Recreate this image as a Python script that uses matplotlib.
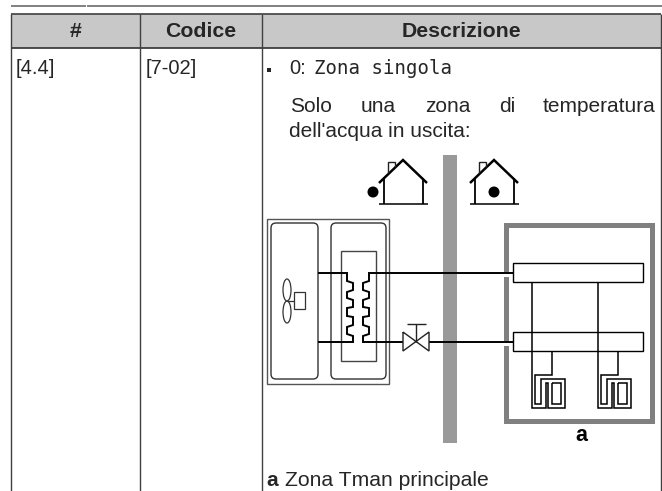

# Table row with the single zone hydraulic diagram
import matplotlib
matplotlib.use('Agg')
import matplotlib.pyplot as plt
from matplotlib.patches import Rectangle, FancyBboxPatch, Ellipse, Circle

plt.rcParams['font.family'] = ['Liberation Sans', 'DejaVu Sans']

# Texts of the table
header_labels = ["#", "Codice", "Descrizione"]
row_id = "[4.4]"
row_code = "[7-02]"
option_value = "0:"
option_name = "Zona singola"
justified_words = ["Solo", "una", "zona", "di", "temperatura"]
second_line = "dell'acqua in uscita:"
zone_letter = "a"
caption_rest = "Zona Tman principale"

# Table geometry in image pixels
col_edges = [11, 140, 262, 661]
header_centers = [76, 201, 461]
word_x = [290, 361, 425, 499, 543]

# Heat exchanger coils
coil_left = [(318, 273), (347, 273), (347, 281), (353, 283), (353, 290), (347, 292), (347, 298), (353, 300),
             (353, 307), (347, 308), (347, 316), (353, 317), (353, 325), (347, 327), (347, 334), (353, 336),
             (353, 342), (318, 342)]
coil_right = [(513, 273), (369, 273), (369, 281), (363, 283), (363, 290), (369, 292), (369, 298), (363, 300),
              (363, 307), (369, 308), (369, 316), (363, 317), (363, 325), (369, 327), (369, 334), (363, 336),
              (363, 342), (403, 342)]

# Floor heating loop, drawn twice
loop_outer = [(552, 351), (552, 375), (535, 375), (535, 404), (541, 404), (541, 379), (565, 379), (565, 408),
              (548, 408), (548, 383), (546, 383), (546, 408), (532, 408), (532, 282)]
loop_inner = [(552, 383), (552, 404), (561, 404), (561, 383), (552, 383)]
loop_offsets = [0, 66]

# Houses: ridge x and dot x
house_ridge_x = [403, 494]
house_dot_x = [373, 494]

fig = plt.figure(figsize=(6.62, 4.91), dpi=100)
ax = fig.add_axes([0, 0, 1, 1])
ax.set_xlim(0, 662)
ax.set_ylim(491, 0)
ax.axis('off')

def line(pts, color='black', lw=1.0, z=3):
    xs = [p[0] for p in pts]
    ys = [p[1] for p in pts]
    ax.plot(xs, ys, color=color, lw=lw, zorder=z, solid_capstyle='butt', solid_joinstyle='miter')

TEXT = '#262626'

# Page rule and table frame
line([(11, 5.5), (85.5, 5.5)], '#808080', 1.4)
line([(87, 5.5), (662, 5.5)], '#808080', 1.4)
ax.add_patch(Rectangle((11, 13.5), 650, 34.5, fc='#c8c8c8', ec='none', zorder=1))
line([(11, 13.5), (661, 13.5)], '#404040', 1.2)
line([(11, 48), (661, 48)], '#303030', 1.2)
for x in col_edges:
    line([(x, 13.5), (x, 491)], '#404040', 1.0)

for cx, label in zip(header_centers, header_labels):
    ax.text(cx, 37, label, ha='center', va='baseline', fontsize=15.3, fontweight='bold', color=TEXT)

ax.text(16, 74, row_id, ha='left', va='baseline', fontsize=14.5, color=TEXT)
ax.text(146, 74, row_code, ha='left', va='baseline', fontsize=14.5, color=TEXT)
ax.add_patch(Rectangle((267, 68), 4, 4, fc=TEXT, ec='none'))
ax.text(289, 74, option_value, ha='left', va='baseline', fontsize=14.5, color=TEXT)
ax.text(314, 74, option_name, ha='left', va='baseline', fontsize=13.7, color=TEXT, family='DejaVu Sans Mono')
for x, word in zip(word_x, justified_words):
    ax.text(x, 112, word, ha='left', va='baseline', fontsize=15, color=TEXT)
ax.text(289, 137, second_line, ha='left', va='baseline', fontsize=15, color=TEXT)
ax.text(266, 486, zone_letter, ha='left', va='baseline', fontsize=15, fontweight='bold', color=TEXT)
ax.text(285, 486, caption_rest, ha='left', va='baseline', fontsize=15.2, color=TEXT)

# Wall between outside and inside
ax.add_patch(Rectangle((443, 155), 14, 288, fc='#999999', ec='none', zorder=1))

# Houses
for rx, dx in zip(house_ridge_x, house_dot_x):
    line([(rx - 24, 183), (rx, 160), (rx + 24, 183)], 'black', 1.8)
    line([(rx - 19, 178), (rx - 19, 204)], 'black', 1.3)
    line([(rx + 20, 178), (rx + 20, 204)], 'black', 1.3)
    line([(rx - 24, 204), (rx + 25, 204)], 'black', 1.1)
    line([(rx - 15, 173), (rx - 15, 162), (rx - 8, 162), (rx - 8, 167)], '#222222', 1.0)
    ax.add_patch(Circle((dx, 192), 5.5, fc='black', ec='none', zorder=3))

# Outdoor unit
ax.add_patch(Rectangle((267, 219), 122, 165, fc='white', ec='#555555', lw=1.0, zorder=2))
for x0, x1 in [(271, 318), (331, 386)]:
    ax.add_patch(FancyBboxPatch((x0 + 5, 228), x1 - x0 - 10, 146, boxstyle='round,pad=5', fc='none',
                                ec='#333333', lw=1.0, zorder=2))
ax.add_patch(Rectangle((341, 251), 35, 110, fc='white', ec='#444444', lw=1.0, zorder=2))

# Fan and motor
ax.add_patch(Ellipse((287, 290), 8, 22, fc='none', ec='#333333', lw=0.9, zorder=3))
ax.add_patch(Ellipse((287, 312), 8, 22, fc='none', ec='#333333', lw=0.9, zorder=3))
line([(287, 301), (294, 301)], '#333333', 0.9)
ax.add_patch(Rectangle((294, 292), 11, 17, fc='white', ec='#333333', lw=0.9, zorder=3))

# Room
ax.add_patch(Rectangle((505.5, 224.5), 146, 196, fc='none', ec='#808080', lw=3.6, zorder=1))

# Pipes, coils and valve
line(coil_left, 'black', 1.4)
line(coil_right, 'black', 1.4)
line([(429, 342), (513, 342)], 'black', 1.4)
ax.add_patch(Rectangle((404, 333), 24, 18, fc='white', ec='none', zorder=3.5))
line([(403, 332), (429, 351), (429, 332), (403, 351), (403, 332)], '#222222', 1.0, z=4)
line([(416, 342), (416, 324)], '#222222', 1.0, z=4)
line([(407, 324), (426, 324)], '#222222', 1.0, z=4)

# Gaps where the pipes enter the room
for y in [273, 342]:
    ax.add_patch(Rectangle((502, y - 1), 7, 5, fc='white', ec='none', zorder=2))

# Manifolds
for top in [263, 332]:
    ax.add_patch(Rectangle((513, top), 130, 19, fc='none', ec='black', lw=1.0, zorder=3))

for off in loop_offsets:
    line([(p[0] + off, p[1]) for p in loop_outer], 'black', 1.1)
    line([(p[0] + off, p[1]) for p in loop_inner], 'black', 1.1)
ax.text(581, 441, zone_letter, ha='center', va='baseline', fontsize=15.5, fontweight='bold', color='black')

fig.savefig('out.png', dpi=100)
